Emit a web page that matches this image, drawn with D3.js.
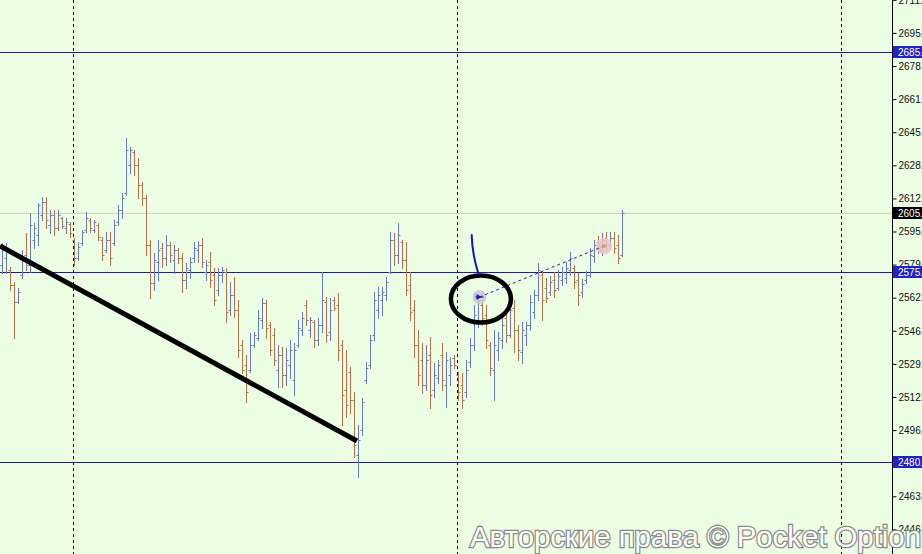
<!DOCTYPE html>
<html><head><meta charset="utf-8">
<script src="https://cdn.jsdelivr.net/npm/d3@7"></script>
<style>html,body{margin:0;padding:0;background:#ebfde2;overflow:hidden}svg{display:block}</style>
</head><body><svg id="c" width="922" height="554"></svg>
<script>
// ---- data (bar index 0..155) ----
const opens=[2578.9,2582.4,2576.4,2568.9,2560.4,2573.9,2583.9,2578.9,2591.4,2593.9,2603.9,2610.4,2598.9,2603.9,2597.4,2602.4,2597.4,2599.4,2591.4,2582.4,2589.9,2596.4,2601.4,2596.4,2598.9,2591.4,2586.4,2591.4,2589.9,2600.4,2606.4,2614.9,2628.9,2635.4,2628.9,2618.9,2612.4,2588.9,2569.9,2580.4,2587.4,2582.4,2588.9,2581.4,2586.4,2582.4,2571.4,2576.4,2582.4,2586.4,2588.9,2575.4,2580.4,2573.9,2566.4,2573.9,2575.4,2556.4,2563.9,2556.4,2538.9,2528.9,2526.4,2538.9,2542.4,2551.4,2559.9,2548.9,2543.9,2526.4,2533.9,2523.9,2528.9,2521.4,2538.9,2546.4,2558.9,2546.4,2550.4,2541.4,2548.9,2560.4,2545.4,2561.4,2558.9,2538.9,2516.4,2525.4,2511.4,2483.9,2496.4,2521.4,2528.9,2543.9,2556.4,2561.4,2563.9,2575.4,2591.4,2583.9,2590.4,2581.4,2568.9,2556.4,2538.9,2531.4,2518.9,2533.9,2516.4,2522.4,2533.9,2518.9,2523.9,2532.4,2523.9,2518.9,2515.4,2530.4,2538.9,2551.4,2558.9,2553.9,2538.9,2526.4,2536.4,2541.4,2552.4,2543.9,2557.4,2546.4,2535.4,2543.9,2548.9,2555.4,2563.9,2573.9,2567.4,2565.4,2571.4,2567.4,2571.4,2572.4,2576.4,2577.4,2571.4,2565.4,2571.4,2573.9,2583.4,2590.4,2586.4,2592.4,2588.9,2592.4,2588.9,2583.9];
const highs=[2589.9,2589.9,2577.9,2570.4,2567.4,2586.4,2594.9,2604.9,2599.9,2609.9,2612.9,2612.9,2606.4,2606.4,2606.4,2602.9,2602.4,2600.4,2592.4,2590.4,2596.4,2605.4,2602.4,2601.4,2599.9,2592.9,2595.4,2595.4,2601.4,2608.9,2614.9,2642.4,2637.9,2636.4,2632.4,2620.4,2613.9,2591.4,2584.9,2591.4,2589.9,2593.9,2590.4,2588.9,2587.4,2584.9,2579.9,2582.9,2590.4,2590.9,2592.4,2581.4,2585.4,2577.4,2577.4,2577.9,2577.4,2570.4,2572.9,2561.4,2541.4,2533.9,2544.9,2545.4,2556.4,2562.4,2561.4,2550.4,2547.4,2538.9,2537.9,2537.4,2541.4,2539.9,2551.4,2555.4,2561.4,2552.9,2551.4,2552.4,2575.4,2562.9,2562.4,2562.9,2564.9,2541.4,2536.4,2527.9,2515.4,2498.9,2512.4,2530.4,2543.9,2565.4,2567.9,2567.9,2572.9,2595.4,2594.9,2599.9,2591.4,2590.4,2575.4,2561.4,2546.4,2539.9,2538.9,2542.9,2529.9,2531.4,2539.9,2535.4,2532.9,2533.9,2525.4,2524.9,2531.4,2542.4,2558.9,2563.9,2559.9,2558.9,2540.4,2546.4,2545.4,2552.4,2556.4,2559.9,2561.4,2548.9,2550.4,2550.4,2563.9,2566.4,2579.9,2575.4,2572.4,2573.4,2575.4,2576.4,2577.9,2580.4,2585.4,2578.9,2574.9,2571.9,2575.9,2587.4,2591.4,2593.4,2594.9,2595.4,2595.4,2595.4,2593.9,2606.4];
const lows=[2574.9,2574.9,2566.4,2542.4,2559.9,2572.4,2576.4,2575.4,2587.4,2588.9,2601.4,2597.4,2594.9,2593.9,2596.4,2597.4,2594.9,2592.9,2578.9,2581.4,2588.9,2595.4,2595.4,2595.4,2591.4,2581.4,2585.4,2578.9,2588.9,2598.9,2602.4,2613.9,2624.9,2623.9,2612.4,2608.9,2583.9,2562.4,2566.4,2571.4,2577.9,2578.9,2580.4,2574.9,2579.9,2565.4,2567.4,2572.4,2580.4,2580.4,2577.9,2571.4,2567.9,2558.9,2563.9,2570.4,2550.4,2553.9,2552.9,2532.9,2524.9,2510.4,2525.4,2537.9,2541.4,2547.4,2542.4,2533.9,2528.9,2517.9,2517.9,2518.9,2522.4,2513.9,2537.9,2543.9,2548.9,2542.9,2537.9,2538.9,2545.4,2540.4,2541.4,2556.4,2531.4,2498.9,2502.9,2504.9,2482.9,2472.9,2493.9,2519.9,2527.4,2541.4,2552.4,2553.9,2561.4,2574.9,2578.9,2579.9,2577.4,2563.9,2551.4,2532.9,2518.9,2514.9,2516.4,2507.4,2512.9,2519.9,2516.4,2507.9,2518.9,2527.4,2511.4,2507.4,2512.9,2527.9,2536.4,2547.9,2548.9,2537.4,2523.9,2511.4,2531.4,2537.4,2540.4,2542.9,2535.4,2531.4,2529.9,2538.9,2546.4,2552.4,2561.4,2551.4,2560.4,2563.9,2562.9,2566.4,2568.9,2569.9,2573.9,2567.4,2558.9,2562.9,2569.9,2572.9,2580.4,2584.9,2583.9,2586.4,2587.4,2584.9,2579.9,2583.4];
const closes=[2586.4,2587.4,2568.9,2560.4,2565.4,2582.4,2578.9,2598.9,2597.4,2608.9,2610.4,2601.4,2603.9,2597.4,2603.9,2598.4,2600.4,2594.9,2582.4,2587.9,2595.4,2602.4,2597.4,2600.4,2592.9,2583.9,2591.4,2582.4,2598.9,2606.4,2612.4,2636.4,2636.4,2628.9,2618.9,2612.4,2588.9,2569.9,2581.4,2586.4,2582.4,2588.9,2583.9,2586.4,2582.4,2571.4,2577.4,2580.4,2587.4,2588.9,2580.4,2578.9,2571.4,2561.4,2573.9,2576.4,2555.4,2563.9,2556.4,2536.4,2526.4,2515.4,2538.9,2543.9,2552.4,2559.9,2547.4,2536.4,2531.4,2533.9,2523.9,2531.4,2536.4,2536.4,2547.4,2552.4,2551.4,2551.4,2541.4,2548.9,2561.4,2543.9,2556.4,2557.4,2536.4,2513.9,2508.9,2511.4,2488.9,2491.4,2510.4,2527.4,2541.4,2561.4,2563.9,2565.4,2570.4,2591.4,2583.9,2593.9,2581.4,2566.4,2555.4,2538.9,2523.9,2518.9,2531.4,2513.9,2523.9,2528.9,2521.4,2531.4,2528.9,2528.9,2515.4,2511.4,2526.4,2538.9,2553.9,2561.4,2552.4,2541.4,2527.4,2538.9,2542.4,2548.9,2543.9,2556.4,2546.4,2536.4,2546.4,2548.9,2560.4,2563.9,2576.4,2561.4,2562.4,2570.4,2566.4,2573.4,2575.4,2577.4,2582.4,2570.4,2563.9,2569.4,2573.9,2583.9,2588.9,2587.4,2591.4,2588.9,2592.4,2587.4,2582.4,2605.1];
const tickValues=[2446.7,2463.25,2479.8,2496.35,2512.9,2529.45,2546.0,2562.55,2579.1,2595.65,2612.2,2628.75,2645.3,2661.85,2678.4,2694.95,2711.5];
const tickLabels=["2446.7","2463.2","2479.8","2496.3","2512.9","2529.4","2546.0","2562.7","2579.1","2595.7","2612.2","2628.7","2645.3","2661.7","2678.7","2695.0","2711.5"];
const levelPrices=[2685.4,2575.6,2480.4];
const levelLabels=["2685.4","2575.6","2480.4"];
const currentPrice=2605.1;
const currentLabel="2605.1";
const separatorBars=[18,114,210];
const watermark="Авторские права © Pocket Option";
// annotations in (bar index, price)
const trendLine=[[-0.425,2588.4],[88.825,2490.9]];
const circleCenter=[119.8,2561.9];
const arrowStroke=[[117.5,2593.9],[117.6,2584.4],[119.2,2574.4]];
const projection=[[119.45,2562.9],[150.6,2588.4]];

// ---- layout ----
const W=922,H=554,axisX=892;
const svg=d3.select("#c");
const x=d3.scaleLinear().domain([0,222]).range([1.7,889.7]);
const y=d3.scaleLinear().domain([2480.4,2685.4]).range([462,52]);
const px=v=>Math.round(x(v))+0.5;
const py=v=>Math.round(y(v))+0.5;

svg.append("rect").attr("width",W).attr("height",H).attr("fill","#ebfde2");

// current price line
svg.append("line").attr("x1",0).attr("x2",axisX).attr("y1",py(currentPrice)).attr("y2",py(currentPrice))
  .attr("stroke","#c9d3c2").attr("stroke-width",1);
// level lines
svg.selectAll(".lvl").data(levelPrices).join("line").attr("class","lvl")
  .attr("x1",0).attr("x2",axisX).attr("y1",d=>py(d)).attr("y2",d=>py(d))
  .attr("stroke","#1c1ca8").attr("stroke-width",1);
// separators
svg.selectAll(".sep").data(separatorBars).join("line").attr("class","sep")
  .attr("x1",d=>Math.floor(x(d))+0.5).attr("x2",d=>Math.floor(x(d))+0.5).attr("y1",0).attr("y2",H)
  .attr("stroke","#000").attr("stroke-width",1).attr("stroke-dasharray","3,3");

// bars
const upC="#6a7ac2",dnC="#b9714a";
const bars=svg.append("g").selectAll("g").data(d3.range(opens.length)).join("g")
  .attr("stroke",i=>closes[i]>=opens[i]?upC:dnC).attr("stroke-width",1);
bars.append("line").attr("x1",i=>px(i)).attr("x2",i=>px(i)).attr("y1",i=>Math.round(y(highs[i]))).attr("y2",i=>Math.round(y(lows[i]))+1);
bars.append("line").attr("x1",i=>px(i)-2).attr("x2",i=>px(i)).attr("y1",i=>py(opens[i])).attr("y2",i=>py(opens[i]));
bars.append("line").attr("x1",i=>px(i)).attr("x2",i=>px(i)+2).attr("y1",i=>py(closes[i])).attr("y2",i=>py(closes[i]));

// annotations
svg.append("line").attr("x1",x(trendLine[0][0])).attr("y1",y(trendLine[0][1]))
  .attr("x2",x(trendLine[1][0])).attr("y2",y(trendLine[1][1]))
  .attr("stroke","#000").attr("stroke-width",5);
svg.append("circle").attr("cx",x(projection[0][0])).attr("cy",y(projection[0][1])).attr("r",7).attr("fill","#c8c9d4").attr("opacity",0.85);
svg.append("circle").attr("cx",x(projection[1][0])).attr("cy",y(projection[1][1])).attr("r",8).attr("fill","#e9c4c8").attr("opacity",0.85);
svg.append("line").attr("x1",x(projection[0][0])).attr("y1",y(projection[0][1]))
  .attr("x2",x(projection[1][0])).attr("y2",y(projection[1][1]))
  .attr("stroke","#1c1cb0").attr("stroke-width",1).attr("stroke-dasharray","3,3");
{
  const cx=x(projection[0][0]),cy=y(projection[0][1]);
  svg.append("path").attr("d",`M${cx-3},${cy-3}L${cx+2},${cy}L${cx-3},${cy+3}Z`).attr("fill","#1c1cc0");
  svg.append("line").attr("x1",cx-4).attr("x2",cx+4).attr("y1",cy).attr("y2",cy).attr("stroke","#1c1cc0").attr("stroke-width",1.2);
  const ex=x(projection[1][0]),ey=y(projection[1][1]);
  svg.append("circle").attr("cx",ex).attr("cy",ey).attr("r",2).attr("fill","#d9a070");
}
svg.append("ellipse").attr("cx",x(circleCenter[0])).attr("cy",y(circleCenter[1])).attr("rx",30).attr("ry",23.5)
  .attr("fill","none").attr("stroke","#000").attr("stroke-width",4.5);
svg.append("path").attr("d",`M${x(arrowStroke[0][0])},${y(arrowStroke[0][1])}Q${x(arrowStroke[1][0])},${y(arrowStroke[1][1])} ${x(arrowStroke[2][0])},${y(arrowStroke[2][1])}`)
  .attr("fill","none").attr("stroke","#1414b8").attr("stroke-width",2).attr("stroke-linecap","round");

// axis
svg.append("rect").attr("x",axisX+0.5).attr("y",0).attr("width",W-axisX).attr("height",H).attr("fill","#ebfde2");
const ax=svg.append("g").attr("transform",`translate(${axisX+0.5},0)`)
  .call(d3.axisRight(y).tickValues(tickValues).tickSize(4).tickPadding(2).tickFormat((d,i)=>tickLabels[i]));
ax.select(".domain").remove();
ax.selectAll(".tick line").attr("stroke","#000");
ax.selectAll(".tick text").attr("fill","#111").style("font-family","'Liberation Sans',Arial,sans-serif").style("font-size","10px");
svg.append("line").attr("x1",axisX+0.5).attr("x2",axisX+0.5).attr("y1",0).attr("y2",H).attr("stroke","#000");

// level label boxes
const boxes=[...levelPrices.map((p,i)=>({p,t:levelLabels[i],c:"#1f22c6"})),{p:currentPrice,t:currentLabel,c:"#000"}];
const bg=svg.selectAll(".box").data(boxes).join("g").attr("class","box").attr("transform",d=>`translate(${axisX+1},${Math.round(y(d.p))})`);
bg.append("rect").attr("x",0).attr("y",-6).attr("width",W-axisX).attr("height",12).attr("fill",d=>d.c);
bg.append("text").attr("x",5).attr("y",3.6).attr("fill","#fff").text(d=>d.t)
  .style("font-family","'Liberation Sans',Arial,sans-serif").style("font-size","10px");

// watermark
svg.append("text").attr("x",470).attr("y",547).text(watermark)
  .attr("textLength",451).attr("lengthAdjust","spacingAndGlyphs")
  .style("font-family","'Liberation Sans',Arial,sans-serif").style("font-size","30px")
  .attr("fill","#ffffff").attr("stroke","#8a8a8a").attr("stroke-width",2.6).style("paint-order","stroke");
</script></body></html>
